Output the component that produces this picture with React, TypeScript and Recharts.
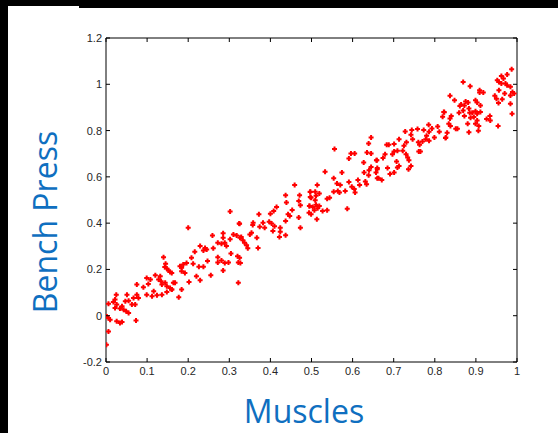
import { ScatterChart, Scatter, XAxis, YAxis } from "recharts";

// muscles (x) / bench press (y) pairs from left to right
const lowBand: [number, number][] = [
  [0.140, 0.253], [0.145, 0.224], [0.143, 0.210], [0.148, 0.204], [0.152, 0.195], [0.156, 0.189],
  [0.099, 0.163], [0.108, 0.156], [0.120, 0.175], [0.128, 0.156], [0.132, 0.171], [0.134, 0.149],
  [0.136, 0.135], [0.144, 0.142], [0.148, 0.127], [0.156, 0.120], [0.160, 0.113], [0.164, 0.142],
  [0.075, 0.135], [0.091, 0.123], [0.103, 0.137], [0.116, 0.106], [0.124, 0.088], [0.112, 0.084],
  [0.099, 0.091], [0.136, 0.091], [0.148, 0.103], [0.025, 0.091], [0.022, 0.070], [0.018, 0.059],
  [0.006, 0.052], [0.026, 0.048], [0.022, 0.033], [0.034, 0.031], [0.039, 0.041], [0.043, 0.026],
  [0.047, 0.062], [0.055, 0.065], [0.051, 0.091], [0.067, 0.077], [0.063, 0.048], [0.075, 0.091],
  [0.079, 0.077], [0.071, 0.048], [0.049, 0.019], [0.055, 0.012], [0.002, -0.003], [0.006, -0.010],
  [0.010, -0.017], [0.026, -0.024], [0.034, -0.032], [0.039, -0.027], [0.073, -0.021], [0.006, -0.068],
  [0.001, -0.125],
];

const lowMidBand: [number, number][] = [
  [0.302, 0.450], [0.200, 0.380], [0.324, 0.398], [0.259, 0.347], [0.285, 0.356], [0.285, 0.337],
  [0.310, 0.351], [0.318, 0.347], [0.326, 0.337], [0.302, 0.330], [0.289, 0.315], [0.281, 0.311],
  [0.293, 0.301], [0.272, 0.315], [0.229, 0.301], [0.241, 0.293], [0.237, 0.282], [0.245, 0.286],
  [0.261, 0.291], [0.216, 0.276], [0.208, 0.250], [0.304, 0.269], [0.320, 0.257], [0.272, 0.253],
  [0.281, 0.239], [0.247, 0.236], [0.272, 0.230], [0.289, 0.228], [0.298, 0.230], [0.322, 0.230],
  [0.196, 0.228], [0.188, 0.221], [0.180, 0.214], [0.184, 0.207], [0.212, 0.224], [0.226, 0.212],
  [0.237, 0.212], [0.184, 0.192], [0.192, 0.185], [0.160, 0.185], [0.285, 0.195], [0.255, 0.175],
  [0.220, 0.171], [0.229, 0.153], [0.202, 0.146], [0.168, 0.142], [0.322, 0.142], [0.160, 0.113],
  [0.184, 0.113], [0.177, 0.080],
];

const midBand: [number, number][] = [
  [0.459, 0.565], [0.437, 0.521], [0.471, 0.521], [0.497, 0.535], [0.497, 0.513], [0.469, 0.496],
  [0.473, 0.477], [0.495, 0.474], [0.439, 0.489], [0.415, 0.470], [0.408, 0.453], [0.400, 0.441],
  [0.453, 0.457], [0.443, 0.438], [0.447, 0.431], [0.494, 0.445], [0.469, 0.424], [0.372, 0.438],
  [0.358, 0.402], [0.357, 0.392], [0.382, 0.402], [0.397, 0.406], [0.403, 0.398], [0.374, 0.384],
  [0.386, 0.380], [0.410, 0.387], [0.406, 0.366], [0.424, 0.380], [0.424, 0.363], [0.422, 0.340],
  [0.437, 0.409], [0.437, 0.348], [0.473, 0.380], [0.325, 0.397], [0.354, 0.358], [0.350, 0.351],
  [0.329, 0.340], [0.333, 0.326], [0.337, 0.315], [0.342, 0.305], [0.345, 0.291], [0.367, 0.337],
  [0.370, 0.293], [0.325, 0.250], [0.327, 0.228],
];

const upMidBand: [number, number][] = [
  [0.645, 0.770], [0.639, 0.744], [0.556, 0.720], [0.596, 0.701], [0.605, 0.701], [0.635, 0.705],
  [0.645, 0.701], [0.591, 0.679], [0.659, 0.672], [0.627, 0.662], [0.645, 0.643], [0.660, 0.633],
  [0.640, 0.629], [0.628, 0.619], [0.639, 0.607], [0.660, 0.594], [0.533, 0.622], [0.574, 0.619],
  [0.554, 0.594], [0.613, 0.586], [0.631, 0.580], [0.634, 0.568], [0.617, 0.565], [0.591, 0.578],
  [0.562, 0.571], [0.570, 0.565], [0.598, 0.557], [0.604, 0.547], [0.606, 0.532], [0.564, 0.539],
  [0.554, 0.536], [0.568, 0.532], [0.582, 0.539], [0.514, 0.565], [0.497, 0.536], [0.509, 0.536],
  [0.519, 0.528], [0.511, 0.518], [0.499, 0.510], [0.544, 0.510], [0.538, 0.505], [0.509, 0.499],
  [0.495, 0.474], [0.503, 0.470], [0.511, 0.479], [0.519, 0.474], [0.515, 0.464], [0.507, 0.456],
  [0.527, 0.453], [0.538, 0.456], [0.499, 0.438], [0.513, 0.417], [0.587, 0.462],
];

const highBand: [number, number][] = [
  [0.823, 0.879], [0.819, 0.860], [0.785, 0.825], [0.807, 0.818], [0.793, 0.809], [0.811, 0.795],
  [0.786, 0.795], [0.827, 0.770], [0.799, 0.770], [0.780, 0.778], [0.773, 0.802], [0.758, 0.807],
  [0.744, 0.802], [0.728, 0.796], [0.742, 0.782], [0.746, 0.763], [0.778, 0.763], [0.770, 0.753],
  [0.786, 0.756], [0.760, 0.749], [0.763, 0.739], [0.731, 0.749], [0.713, 0.763], [0.701, 0.742],
  [0.683, 0.739], [0.688, 0.739], [0.725, 0.734], [0.722, 0.713], [0.730, 0.698], [0.734, 0.684],
  [0.761, 0.710], [0.765, 0.710], [0.701, 0.710], [0.709, 0.713], [0.697, 0.698], [0.679, 0.698],
  [0.674, 0.681], [0.707, 0.666], [0.737, 0.672], [0.658, 0.672], [0.660, 0.638], [0.657, 0.619],
  [0.685, 0.638], [0.709, 0.640], [0.713, 0.647], [0.701, 0.619], [0.691, 0.612], [0.736, 0.633],
  [0.742, 0.647], [0.663, 0.594], [0.671, 0.586],
];

const topBand: [number, number][] = [
  [0.987, 1.065], [0.976, 1.042], [0.962, 1.036], [0.967, 1.025], [0.952, 1.017], [0.956, 1.010],
  [0.962, 1.003], [0.972, 1.003], [0.976, 0.996], [0.984, 0.989], [0.956, 0.974], [0.989, 0.967],
  [0.993, 0.960], [0.984, 0.952], [0.970, 0.960], [0.946, 0.950], [0.950, 0.938], [0.964, 0.935],
  [0.955, 0.919], [0.984, 0.916], [0.988, 0.873], [0.869, 1.010], [0.886, 0.991], [0.909, 0.974],
  [0.909, 0.964], [0.918, 0.964], [0.837, 0.950], [0.848, 0.931], [0.899, 0.931], [0.903, 0.921],
  [0.875, 0.926], [0.881, 0.921], [0.864, 0.913], [0.861, 0.906], [0.872, 0.908], [0.911, 0.908],
  [0.883, 0.895], [0.869, 0.887], [0.859, 0.877], [0.872, 0.863], [0.885, 0.877], [0.891, 0.877],
  [0.899, 0.883], [0.903, 0.873], [0.911, 0.880], [0.895, 0.859], [0.887, 0.855], [0.903, 0.844],
  [0.907, 0.820], [0.926, 0.850], [0.934, 0.863], [0.935, 0.844], [0.954, 0.820], [0.880, 0.830],
  [0.899, 0.830], [0.822, 0.880], [0.840, 0.863], [0.834, 0.830], [0.838, 0.820], [0.837, 0.852],
  [0.855, 0.808], [0.851, 0.808], [0.830, 0.791], [0.883, 0.793], [0.906, 0.799], [0.826, 0.768],
];

const xTicks = [0, 0.1, 0.2, 0.3, 0.4, 0.5, 0.6, 0.7, 0.8, 0.9, 1];
const yTicks = [-0.2, 0, 0.2, 0.4, 0.6, 0.8, 1, 1.2];

const points = [...lowBand, ...lowMidBand, ...midBand, ...upMidBand, ...highBand, ...topBand].map(
  ([muscles, bench]) => ({ muscles, bench })
);

const TICK_FONT = { fontSize: 11, fontFamily: "Liberation Sans, Arial, sans-serif", fill: "#262626" };
const TITLE_COLOR = "#0f6fc0";
const TICK_LEN = 4;

function BottomTick(props: any) {
  const { x, y, payload } = props;
  return (
    <g>
      <line x1={x} y1={y} x2={x} y2={y - TICK_LEN} stroke="#000" />
      <text x={x} y={y + 13} textAnchor="middle" {...TICK_FONT}>{String(payload.value)}</text>
    </g>
  );
}

function LeftTick(props: any) {
  const { x, y, payload } = props;
  return (
    <g>
      <line x1={x} y1={y} x2={x + TICK_LEN} y2={y} stroke="#000" />
      <text x={x - 4} y={y + 4} textAnchor="end" {...TICK_FONT}>{String(payload.value)}</text>
    </g>
  );
}

function TopTick(props: any) {
  const { x, y } = props;
  return <line x1={x} y1={y} x2={x} y2={y + TICK_LEN} stroke="#000" />;
}

function RightTick(props: any) {
  const { x, y } = props;
  return <line x1={x} y1={y} x2={x - TICK_LEN} y2={y} stroke="#000" />;
}

function PlusMarker(props: any) {
  const { cx, cy } = props;
  if (cx == null || cy == null) return null;
  const d = `M${cx - 1},${cy - 2.5}h2v1.5h1.5v2h-1.5v1.5h-2v-1.5h-1.5v-2h1.5z`;
  return <path d={d} fill="#ff0000" />;
}

export default function App() {
  return (
    <div style={{ position: "fixed", left: 0, top: 0, width: 558, height: 433, background: "#000" }}>
      <div style={{ position: "absolute", left: 8, top: 8, width: 550, height: 425, background: "#fff" }} />
      <div style={{ position: "absolute", left: 8, top: 6, width: 71, height: 2, background: "#fff" }} />
      <div style={{ position: "absolute", left: 0, top: 0 }}>
        <ScatterChart width={558} height={433} margin={{ top: 37, right: 40, bottom: 41, left: 46 }}>
          <XAxis
            xAxisId="b"
            type="number"
            dataKey="muscles"
            domain={[0, 1]}
            ticks={xTicks}
            interval={0}
            orientation="bottom"
            height={30}
            tickSize={0}
            tickMargin={0}
            tickLine={false}
            axisLine={{ stroke: "#000" }}
            tick={<BottomTick />}
            allowDataOverflow
          />
          <XAxis
            xAxisId="t"
            type="number"
            dataKey="muscles"
            domain={[0, 1]}
            ticks={xTicks}
            interval={0}
            orientation="top"
            height={1}
            tickSize={0}
            tickMargin={0}
            tickLine={false}
            axisLine={{ stroke: "#000" }}
            tick={<TopTick />}
            allowDataOverflow
          />
          <YAxis
            yAxisId="l"
            type="number"
            dataKey="bench"
            domain={[-0.2, 1.2]}
            ticks={yTicks}
            interval={0}
            orientation="left"
            width={60}
            tickSize={0}
            tickMargin={0}
            tickLine={false}
            axisLine={{ stroke: "#000" }}
            tick={<LeftTick />}
            allowDataOverflow
          />
          <YAxis
            yAxisId="r"
            type="number"
            dataKey="bench"
            domain={[-0.2, 1.2]}
            ticks={yTicks}
            interval={0}
            orientation="right"
            width={1}
            tickSize={0}
            tickMargin={0}
            tickLine={false}
            axisLine={{ stroke: "#000" }}
            tick={<RightTick />}
            allowDataOverflow
          />
          <Scatter
            data={points}
            xAxisId="b"
            yAxisId="l"
            shape={<PlusMarker />}
            isAnimationActive={false}
          />
        </ScatterChart>
      </div>
      <div
        style={{
          position: "absolute",
          left: 45,
          top: 222,
          transform: "translate(-50%, -50%) rotate(-90deg)",
          whiteSpace: "nowrap",
          color: TITLE_COLOR,
          fontFamily: "Open Sans, sans-serif",
          fontSize: 32,
          lineHeight: 1,
        }}
      >
        Bench Press
      </div>
      <div
        style={{
          position: "absolute",
          left: 304,
          top: 411,
          transform: "translate(-50%, -50%)",
          whiteSpace: "nowrap",
          color: TITLE_COLOR,
          fontFamily: "Open Sans, sans-serif",
          fontSize: 32,
          lineHeight: 1,
        }}
      >
        Muscles
      </div>
    </div>
  );
}
